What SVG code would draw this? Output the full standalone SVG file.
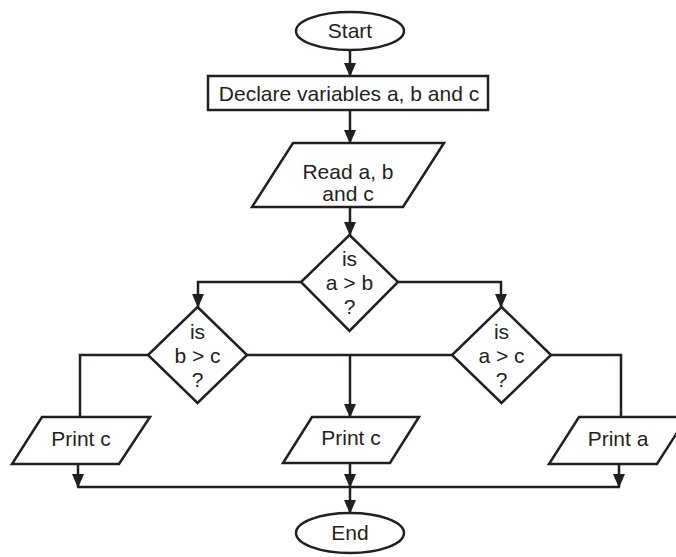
<svg xmlns="http://www.w3.org/2000/svg" width="676" height="557" viewBox="0 0 676 557">
<style>
  .s{fill:#fff;stroke:#231f20;stroke-width:2.5;stroke-linejoin:miter}
  .c{fill:none;stroke:#231f20;stroke-width:2.5}
  .a{marker-end:url(#ah)}
  text{font-family:"Liberation Sans",Arial,sans-serif;font-size:21px;fill:#231f20;text-anchor:middle}
</style>
<defs>
  <marker id="ah" viewBox="0 0 14 12" markerWidth="14" markerHeight="12" refX="13" refY="6" orient="auto" markerUnits="userSpaceOnUse">
    <path d="M0,0 L14,6 L0,12 z" fill="#231f20"/>
  </marker>
</defs>
<rect width="676" height="557" fill="#fff"/>
<g id="connectors">
  <line class="c a" x1="350" y1="50" x2="350" y2="76"/>
  <line class="c a" x1="350" y1="110" x2="350" y2="143"/>
  <line class="c a" x1="350" y1="207" x2="350" y2="235"/>
  <polyline class="c a" points="301,282 198,282 198,307"/>
  <polyline class="c a" points="398,282 501,282 501,307"/>
  <polyline class="c" points="148,355 80,355 80,417"/>
  <polyline class="c" points="551,355 621,355 621,417"/>
  <line class="c" x1="247" y1="355" x2="452" y2="355"/>
  <line class="c a" x1="350" y1="355" x2="350" y2="417"/>
  <line class="c a" x1="78" y1="464" x2="78" y2="487"/>
  <line class="c a" x1="350" y1="463" x2="350" y2="487"/>
  <line class="c a" x1="619" y1="464" x2="619" y2="487"/>
  <line class="c" x1="77" y1="487" x2="620" y2="487"/>
  <line class="c a" x1="350" y1="487" x2="350" y2="513"/>
</g>
<g id="start">
  <ellipse class="s" cx="350" cy="31" rx="54" ry="19"/>
  <text x="350" y="38">Start</text>
</g>
<g id="declare">
  <rect class="s" x="208" y="76" width="280" height="34"/>
  <text x="349" y="101">Declare variables a, b and c</text>
</g>
<g id="read">
  <polygon class="s" points="293,143 444,143 403,207 252,207"/>
  <text x="348" y="179">Read a, b</text>
  <text x="348" y="201">and c</text>
</g>
<g id="dec_ab">
  <polygon class="s" points="349.5,235 398,282 349.5,331 301,282"/>
  <text x="349.5" y="266">is</text>
  <text x="349.5" y="290">a &gt; b</text>
  <text x="349.5" y="314">?</text>
</g>
<g id="dec_bc">
  <polygon class="s" points="197.5,307 247,355 197.5,403 148,355"/>
  <text x="197.5" y="339">is</text>
  <text x="197.5" y="363">b &gt; c</text>
  <text x="197.5" y="387">?</text>
</g>
<g id="dec_ac">
  <polygon class="s" points="501.5,307 551,355 501.5,403 452,355"/>
  <text x="501.5" y="339">is</text>
  <text x="501.5" y="363">a &gt; c</text>
  <text x="501.5" y="387">?</text>
</g>
<g id="print_c_left">
  <polygon class="s" points="42,417 150,417 119,464 12,464"/>
  <text x="81" y="446">Print c</text>
</g>
<g id="print_c_mid">
  <polygon class="s" points="312,417 419,417 390,463 283,463"/>
  <text x="351" y="445">Print c</text>
</g>
<g id="print_a">
  <polygon class="s" points="579,417 687,417 657,464 549,464"/>
  <text x="618" y="446">Print a</text>
</g>
<g id="end">
  <ellipse class="s" cx="350" cy="533" rx="54" ry="20"/>
  <text x="350" y="540">End</text>
</g>
</svg>
